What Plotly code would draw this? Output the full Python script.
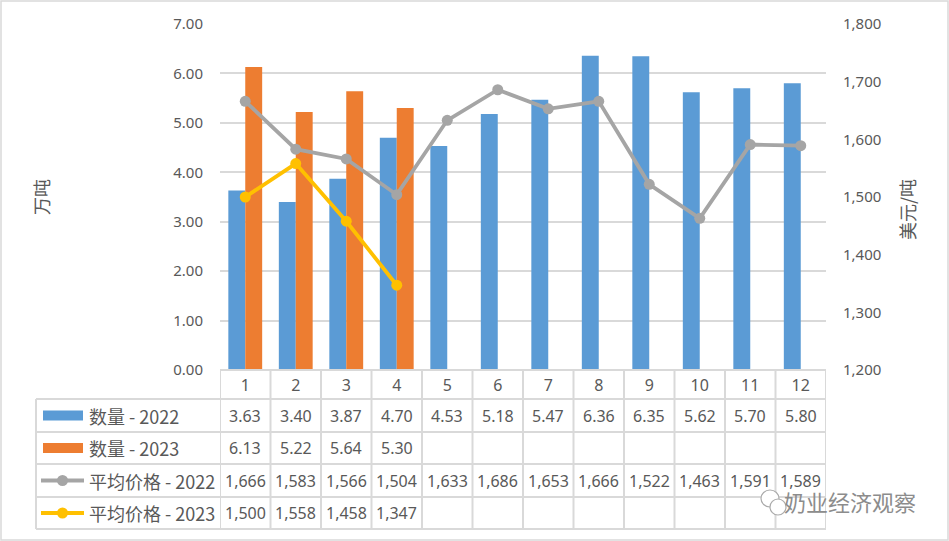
import plotly.graph_objects as go

W, H = 949, 541

months = [str(i) for i in range(1, 13)]
qty_2022 = [3.63, 3.40, 3.87, 4.70, 4.53, 5.18, 5.47, 6.36, 6.35, 5.62, 5.70, 5.80]
qty_2023 = [6.13, 5.22, 5.64, 5.30, None, None, None, None, None, None, None, None]
price_2022 = [1666, 1583, 1566, 1504, 1633, 1686, 1653, 1666, 1522, 1463, 1591, 1589]
price_2023 = [1500, 1558, 1458, 1347, None, None, None, None, None, None, None, None]

names = ["数量 - 2022", "数量 - 2023", "平均价格 - 2022", "平均价格 - 2023"]
colors = ["#5B9BD5", "#ED7D31", "#A5A5A5", "#FFC000"]

left_ticks = [0, 1, 2, 3, 4, 5, 6, 7]
right_ticks = [1200, 1300, 1400, 1500, 1600, 1700, 1800]

# geometry in pixels
PX_L, PX_R = 220, 826
PY_T, PY_B = 24, 370
rows = [370, 399, 432, 464, 497, 529]
LEG_L = 36

def px(x):
    return x / W

def py(y):
    return 1 - y / H

xs = list(range(1, 13))
grid = "#D9D9D9"
txt = "#595959"
font = "Noto Sans, Liberation Sans, sans-serif"
cjk = "Noto Sans CJK SC, sans-serif"

fig = go.Figure()
fig.add_trace(go.Bar(x=xs, y=qty_2022, name=names[0], marker=dict(color=colors[0], line=dict(width=0)),
                     yaxis="y"))
fig.add_trace(go.Bar(x=xs, y=qty_2023, name=names[1], marker=dict(color=colors[1], line=dict(width=0)),
                     yaxis="y"))
fig.add_trace(go.Scatter(x=xs, y=price_2022, name=names[2], mode="lines+markers",
                         line=dict(color=colors[2], width=3.8), marker=dict(size=11, color=colors[2]),
                         yaxis="y2"))
fig.add_trace(go.Scatter(x=xs, y=price_2023, name=names[3], mode="lines+markers",
                         line=dict(color=colors[3], width=3.8), marker=dict(size=11, color=colors[3]),
                         yaxis="y2"))

shapes = []
annotations = []

# outer border
shapes.append(dict(type="rect", xref="paper", yref="paper", x0=px(1), x1=px(948), y0=py(540), y1=py(1),
                   line=dict(color=grid, width=1.5)))

# table horizontal lines
for i, r in enumerate(rows):
    x0 = PX_L if i == 0 else LEG_L
    shapes.append(dict(type="line", xref="paper", yref="paper", x0=px(x0), x1=px(PX_R),
                       y0=py(r), y1=py(r), line=dict(color=grid, width=2)))
# vertical lines
for k in range(13):
    shapes.append(dict(type="line", xref="x", yref="paper", x0=0.5 + k, x1=0.5 + k,
                       y0=py(rows[0]), y1=py(rows[-1]), line=dict(color=grid, width=2)))
shapes.append(dict(type="line", xref="paper", yref="paper", x0=px(LEG_L), x1=px(LEG_L),
                   y0=py(rows[1]), y1=py(rows[-1]), line=dict(color=grid, width=2)))

# legend cells and values
series = [qty_2022, qty_2023, price_2022, price_2023]
for i, (nm, col, vals) in enumerate(zip(names, colors, series)):
    yc = (rows[i + 1] + rows[i + 2]) / 2
    if i < 2:
        shapes.append(dict(type="rect", xref="paper", yref="paper", x0=px(43), x1=px(83),
                           y0=py(yc + 5), y1=py(yc - 5), fillcolor=col, line=dict(width=0)))
    else:
        shapes.append(dict(type="line", xref="paper", yref="paper", x0=px(41), x1=px(84),
                           y0=py(yc), y1=py(yc), line=dict(color=col, width=3.8)))
        shapes.append(dict(type="circle", xref="paper", yref="paper", x0=px(57), x1=px(68),
                           y0=py(yc + 5.5), y1=py(yc - 5.5), fillcolor=col, line=dict(width=0)))
    annotations.append(dict(xref="paper", yref="paper", x=px(87), y=py(yc), text=nm,
                            showarrow=False, xanchor="left", yanchor="middle",
                            font=dict(family=cjk, size=18, color=txt)))
    for x, v in zip(xs, vals):
        if v is None:
            continue
        s = f"{v:.2f}" if i < 2 else f"{v:,}"
        annotations.append(dict(xref="x", yref="paper", x=x, y=py(yc), text=s, showarrow=False,
                                xanchor="center", yanchor="middle",
                                font=dict(family=font, size=16, color=txt)))

# axis titles
annotations.append(dict(xref="paper", yref="paper", x=px(41), y=py(197), text="万吨", textangle=-90,
                        showarrow=False, xanchor="center", yanchor="middle",
                        font=dict(family=cjk, size=18, color=txt)))
annotations.append(dict(xref="paper", yref="paper", x=px(907), y=py(210), text="美元/吨", textangle=-90,
                        showarrow=False, xanchor="center", yanchor="middle",
                        font=dict(family=cjk, size=18, color=txt)))

# watermark
shapes.append(dict(type="circle", xref="paper", yref="paper", x0=px(761), x1=px(779),
                   y0=py(507), y1=py(490), line=dict(color="#AAAAAA", width=1.2), fillcolor="white"))
shapes.append(dict(type="circle", xref="paper", yref="paper", x0=px(770), x1=px(786),
                   y0=py(515), y1=py(499), line=dict(color="#AAAAAA", width=1.2), fillcolor="white"))
annotations.append(dict(xref="paper", yref="paper", x=px(782), y=py(501), text="奶业经济观察",
                        showarrow=False, xanchor="left", yanchor="middle",
                        font=dict(family=cjk, size=22, color="#8C8C8C")))

fig.update_layout(
    width=W, height=H,
    margin=dict(l=0, r=0, t=0, b=0, pad=0, autoexpand=False),
    paper_bgcolor="white", plot_bgcolor="white",
    showlegend=False,
    barmode="group", bargap=0.33, bargroupgap=0,
    xaxis=dict(domain=[px(PX_L), px(PX_R)], range=[0.5, 12.5], tickmode="array",
               tickvals=xs, ticktext=months, showgrid=False, zeroline=False, automargin=False,
               showline=False, ticks="", ticklabelstandoff=4,
               tickfont=dict(family=font, size=16, color=txt)),
    yaxis=dict(domain=[py(PY_B), py(PY_T)], range=[0, 7], tickmode="array", tickvals=left_ticks,
               ticktext=[f"{v:.2f}" for v in left_ticks], showgrid=True, gridcolor=grid, gridwidth=1.5,
               zeroline=False, showline=False, ticks="", ticklabelstandoff=16, automargin=False,
               tickfont=dict(family=font, size=15, color=txt)),
    yaxis2=dict(domain=[py(PY_B), py(PY_T)], range=[1200, 1800], overlaying="y", side="right",
                anchor="x", tickmode="array", tickvals=right_ticks, automargin=False,
                ticktext=[f"{v:,}" for v in right_ticks], showgrid=False, zeroline=False,
                showline=False, ticks="", ticklabelstandoff=16,
                tickfont=dict(family=font, size=15, color=txt)),
    shapes=shapes,
    annotations=annotations,
)

fig.write_html("out.html", config={"displayModeBar": False},
               post_script="document.body.style.margin='0';document.body.style.overflow='hidden';")
